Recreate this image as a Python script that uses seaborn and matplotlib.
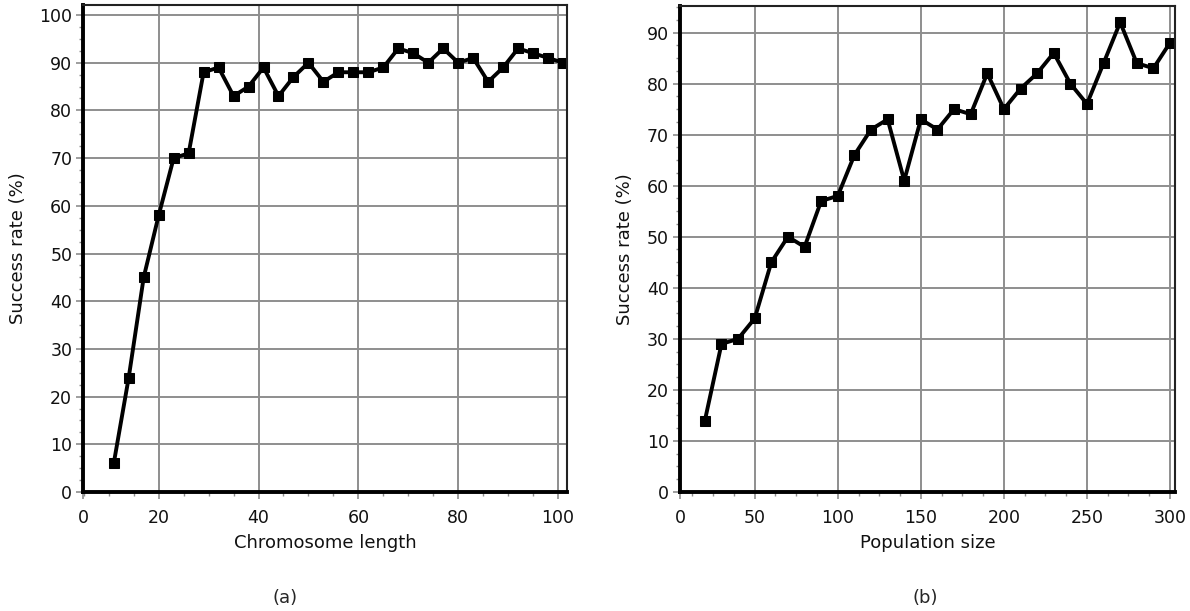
import matplotlib
matplotlib.use('Agg')
import matplotlib.pyplot as plt
from matplotlib.ticker import MultipleLocator
import seaborn as sns
import pandas as pd

# Grafico (a) - taxa de sucesso x tamanho do cromossomo
chrom_len = [11, 14, 17, 20, 23, 26, 29, 32, 35, 38, 41, 44, 47, 50, 53, 56,
             59, 62, 65, 68, 71, 74, 77, 80, 83, 86, 89, 92, 95, 98, 101]
rate_a = [6, 24, 45, 58, 70, 71, 88, 89, 83, 85, 89, 83, 87, 90, 86, 88,
          88, 88, 89, 93, 92, 90, 93, 90, 91, 86, 89, 93, 92, 91, 90]

# Grafico (b) - taxa de sucesso x tamanho da populacao
pop_size = [20, 30, 40, 50, 60, 70, 80, 90, 100, 110, 120, 130, 140, 150, 160,
            170, 180, 190, 200, 210, 220, 230, 240, 250, 260, 270, 280, 290, 300]
rate_b = [14, 29, 30, 34, 45, 50, 48, 57, 58, 66, 71, 73, 61, 73, 71,
          75, 74, 82, 75, 79, 82, 86, 80, 76, 84, 92, 84, 83, 88]

xticks_a = ['0', '20', '40', '60', '80', '100']
xticks_b = ['0', '50', '100', '150', '200', '250', '300']
yticks_a = ['0', '10', '20', '30', '40', '50', '60', '70', '80', '90', '100']
yticks_b = ['0', '10', '20', '30', '40', '50', '60', '70', '80', '90']

df_a = pd.DataFrame({'Chromosome length': chrom_len, 'Success rate (%)': rate_a})
df_b = pd.DataFrame({'Population size': pop_size, 'Success rate (%)': rate_b})

sns.set_style('white')
plt.rcParams['font.family'] = ['DejaVu Sans']

fig = plt.figure(figsize=(11.9, 6.11), dpi=100)
ax1 = fig.add_axes([0.070, 0.1948, 0.4065, 0.797])
ax2 = fig.add_axes([0.5714, 0.1948, 0.416, 0.7954])


def estilo(ax, xmin, xmax, ymax, xmaj, xmin_step, xlabels, ylabels):
    ax.set_xlim(xmin, xmax)
    ax.set_ylim(0, ymax)
    pos = [xmin] + [xmaj * i for i in range(1, len(xlabels))]
    ax.set_xticks(pos, labels=xlabels)
    ax.set_yticks([10 * i for i in range(len(ylabels))], labels=ylabels)
    ax.xaxis.set_minor_locator(MultipleLocator(xmin_step))
    ax.yaxis.set_minor_locator(MultipleLocator(2.5))
    ax.grid(True, which='major', color='#8e8e8e', linewidth=1.4)
    ax.set_axisbelow(True)
    ax.tick_params(axis='both', which='major', direction='out', length=5,
                   width=1.2, color='#8e8e8e', labelsize=12.5, labelcolor='#111111')
    ax.tick_params(axis='x', which='major', pad=7)
    ax.tick_params(axis='y', which='major', pad=3)
    ax.tick_params(axis='both', which='minor', direction='out', length=3,
                   width=1.0, color='#8e8e8e')
    ax.tick_params(bottom=True, left=True, which='both')
    for s in ['left', 'bottom']:
        ax.spines[s].set_color('black')
        ax.spines[s].set_linewidth(2.8)
    for s in ['top', 'right']:
        ax.spines[s].set_color('#222222')
        ax.spines[s].set_linewidth(1.5)


sns.lineplot(data=df_a, x='Chromosome length', y='Success rate (%)', ax=ax1,
             color='black', linewidth=2.8, marker='s', markersize=7,
             markeredgecolor='black', markerfacecolor='black')
estilo(ax1, 4.9, 101.8, 102.1, 20, 5, xticks_a, yticks_a)

sns.lineplot(data=df_b, x='Population size', y='Success rate (%)', ax=ax2,
             color='black', linewidth=2.8, marker='s', markersize=7,
             markeredgecolor='black', markerfacecolor='black')
estilo(ax2, 5, 303, 95.2, 50, 12.5, xticks_b, yticks_b)

for ax, xl in [(ax1, 'Chromosome length'), (ax2, 'Population size')]:
    ax.set_xlabel(xl, fontsize=13, color='#111111')
    ax.set_ylabel('Success rate (%)', fontsize=13, color='#111111')
ax1.xaxis.set_label_coords(0.5, -0.086)
ax2.xaxis.set_label_coords(0.5, -0.086)
ax1.yaxis.set_label_coords(-0.117, 0.5)
ax2.yaxis.set_label_coords(-0.092, 0.5)

fig.text(285 / 1190, 1 - 598 / 611, '(a)', ha='center', va='center', fontsize=13)
fig.text(925 / 1190, 1 - 598 / 611, '(b)', ha='center', va='center', fontsize=13)

fig.savefig('out.png', dpi=100)
